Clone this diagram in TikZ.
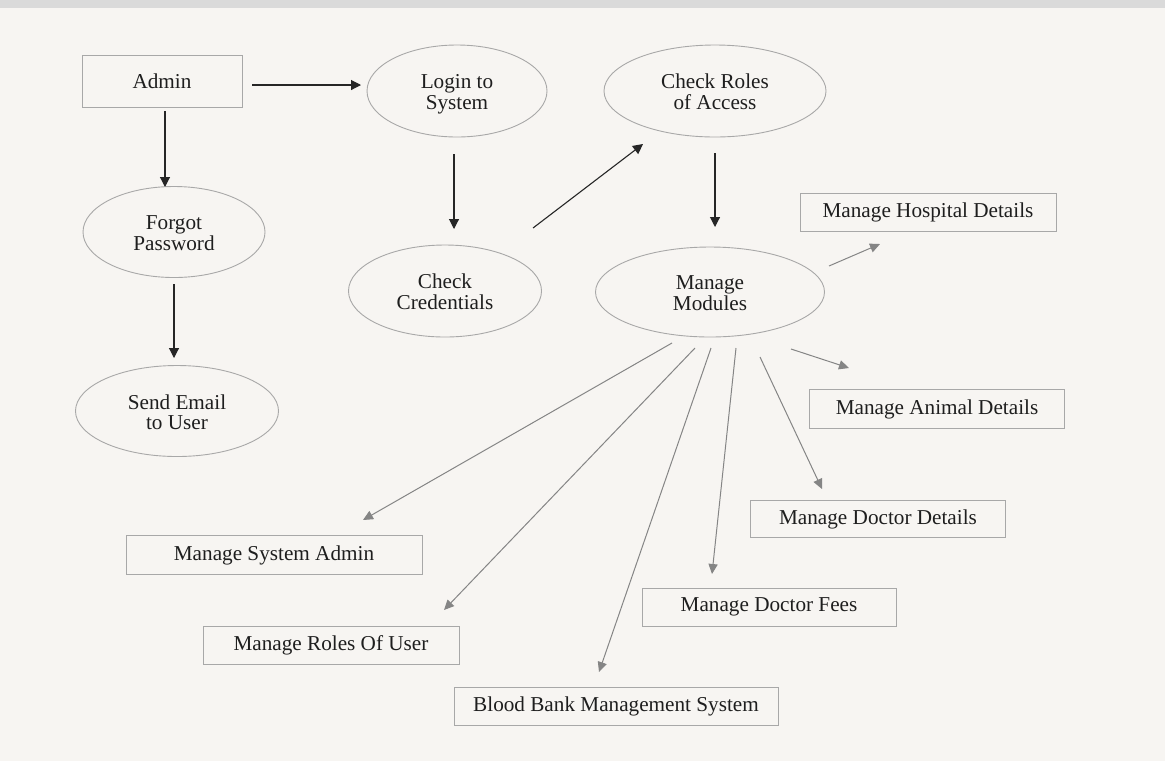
\documentclass[tikz,border=0pt]{standalone}
\usepackage{fontspec}
\setmainfont{Liberation Serif}
\usetikzlibrary{shapes.geometric,arrows.meta,calc}
\definecolor{bgc}{HTML}{F7F5F2}
\definecolor{bandc}{HTML}{DADADA}
\definecolor{borderc}{HTML}{A8A8A8}
\definecolor{txtc}{HTML}{1E1E1E}
\definecolor{darkarr}{HTML}{262626}
\definecolor{grayarr}{HTML}{858585}
\newcommand{\twoline}[2]{\begin{tabular}{@{}c@{}}\rule{0pt}{11pt}#1\\#2\end{tabular}}
\begin{document}
\begin{tikzpicture}[x=0.5pt,y=-0.5pt,
  every node/.style={font=\fontsize{10.6}{10}\selectfont, text=txtc, align=center, inner sep=0pt},
  proc/.style={ellipse, draw=borderc, line width=0.45pt},
  ent/.style={rectangle, draw=borderc, line width=0.45pt},
  darr/.style={draw=darkarr, line width=0.55pt, -{Triangle[length=5pt,width=5pt]}},
  garr/.style={draw=grayarr, line width=0.5pt, -{Triangle[length=5pt,width=4.6pt]}}]
\fill[bgc] (0,0) rectangle (1165,761);
\fill[bandc] (0,0) rectangle (1165,8);
\useasboundingbox (0,0) rectangle (1165,761);

\node[ent, minimum width=80pt, minimum height=26pt] (admin) at (162,81) {Admin};
\node[proc, minimum width=90pt, minimum height=46pt] (login) at (457,91) {\twoline{Login to}{System}};
\node[proc, minimum width=111pt, minimum height=46pt] (cr) at (715,91) {\twoline{Check Roles}{of Access}};
\node[proc, minimum width=91pt, minimum height=45.5pt] (forgot) at (174,232) {\twoline{Forgot}{Password}};
\node[proc, minimum width=101.5pt, minimum height=45.5pt] (send) at (177,411) {\twoline{Send Email}{to User}};
\node[proc, minimum width=96.5pt, minimum height=46pt] (cc) at (445,291) {\twoline{Check}{Credentials}};
\node[proc, minimum width=114.5pt, minimum height=45pt] (mm) at (710,292) {\twoline{Manage}{Modules}};

\node[ent, minimum width=128pt, minimum height=19pt] (hosp) at (928,212) {Manage Hospital Details};
\node[ent, minimum width=127.5pt, minimum height=19.5pt] (animal) at (937,409) {Manage Animal Details};
\node[ent, minimum width=127.5pt, minimum height=18.5pt] (docdet) at (878,519) {Manage Doctor Details};
\node[ent, minimum width=127pt, minimum height=19pt] (fees) at (769,607) {Manage Doctor Fees};
\node[ent, minimum width=162pt, minimum height=19pt] (blood) at (616,706) {Blood Bank Management System};
\node[ent, minimum width=128pt, minimum height=19pt] (roles) at (331,645) {Manage Roles Of User};
\node[ent, minimum width=148pt, minimum height=19.5pt] (sysadm) at (274,555) {Manage System Admin};

\draw[darr] ($(admin)+(45pt,-2pt)$) -- ($(login)+(-48pt,3pt)$);
\draw[darr] ($(admin)+(1.5pt,-15pt)$) -- ($(forgot)+(-4.5pt,22.5pt)$);
\draw[darr] ($(forgot)+(0pt,-26pt)$) -- ($(send)+(-1.5pt,26.5pt)$);
\draw[darr] ($(login)+(-1.5pt,-31.5pt)$) -- ($(cc)+(4.5pt,31pt)$);
\draw[darr] ($(cc)+(44pt,31.5pt)$) -- ($(cr)+(-36pt,-26.5pt)$);
\draw[darr] ($(cr)+(0pt,-31pt)$) -- ($(mm)+(2.5pt,32.5pt)$);

\draw[garr] ($(mm)+(59.5pt,13pt)$) -- ($(hosp)+(-24pt,-16pt)$);
\draw[garr] ($(mm)+(40.5pt,-28.5pt)$) -- ($(animal)+(-44pt,20.5pt)$);
\draw[garr] ($(mm)+(25pt,-32.5pt)$) -- ($(docdet)+(-28pt,15pt)$);
\draw[garr] ($(mm)+(13pt,-28pt)$) -- ($(fees)+(-28.5pt,16.5pt)$);
\draw[garr] ($(mm)+(0.5pt,-28pt)$) -- ($(blood)+(-8.5pt,17pt)$);
\draw[garr] ($(mm)+(-7.5pt,-28pt)$) -- ($(roles)+(56.5pt,17.5pt)$);
\draw[garr] ($(mm)+(-19pt,-25.5pt)$) -- ($(sysadm)+(44.5pt,17.5pt)$);
\end{tikzpicture}
\end{document}
